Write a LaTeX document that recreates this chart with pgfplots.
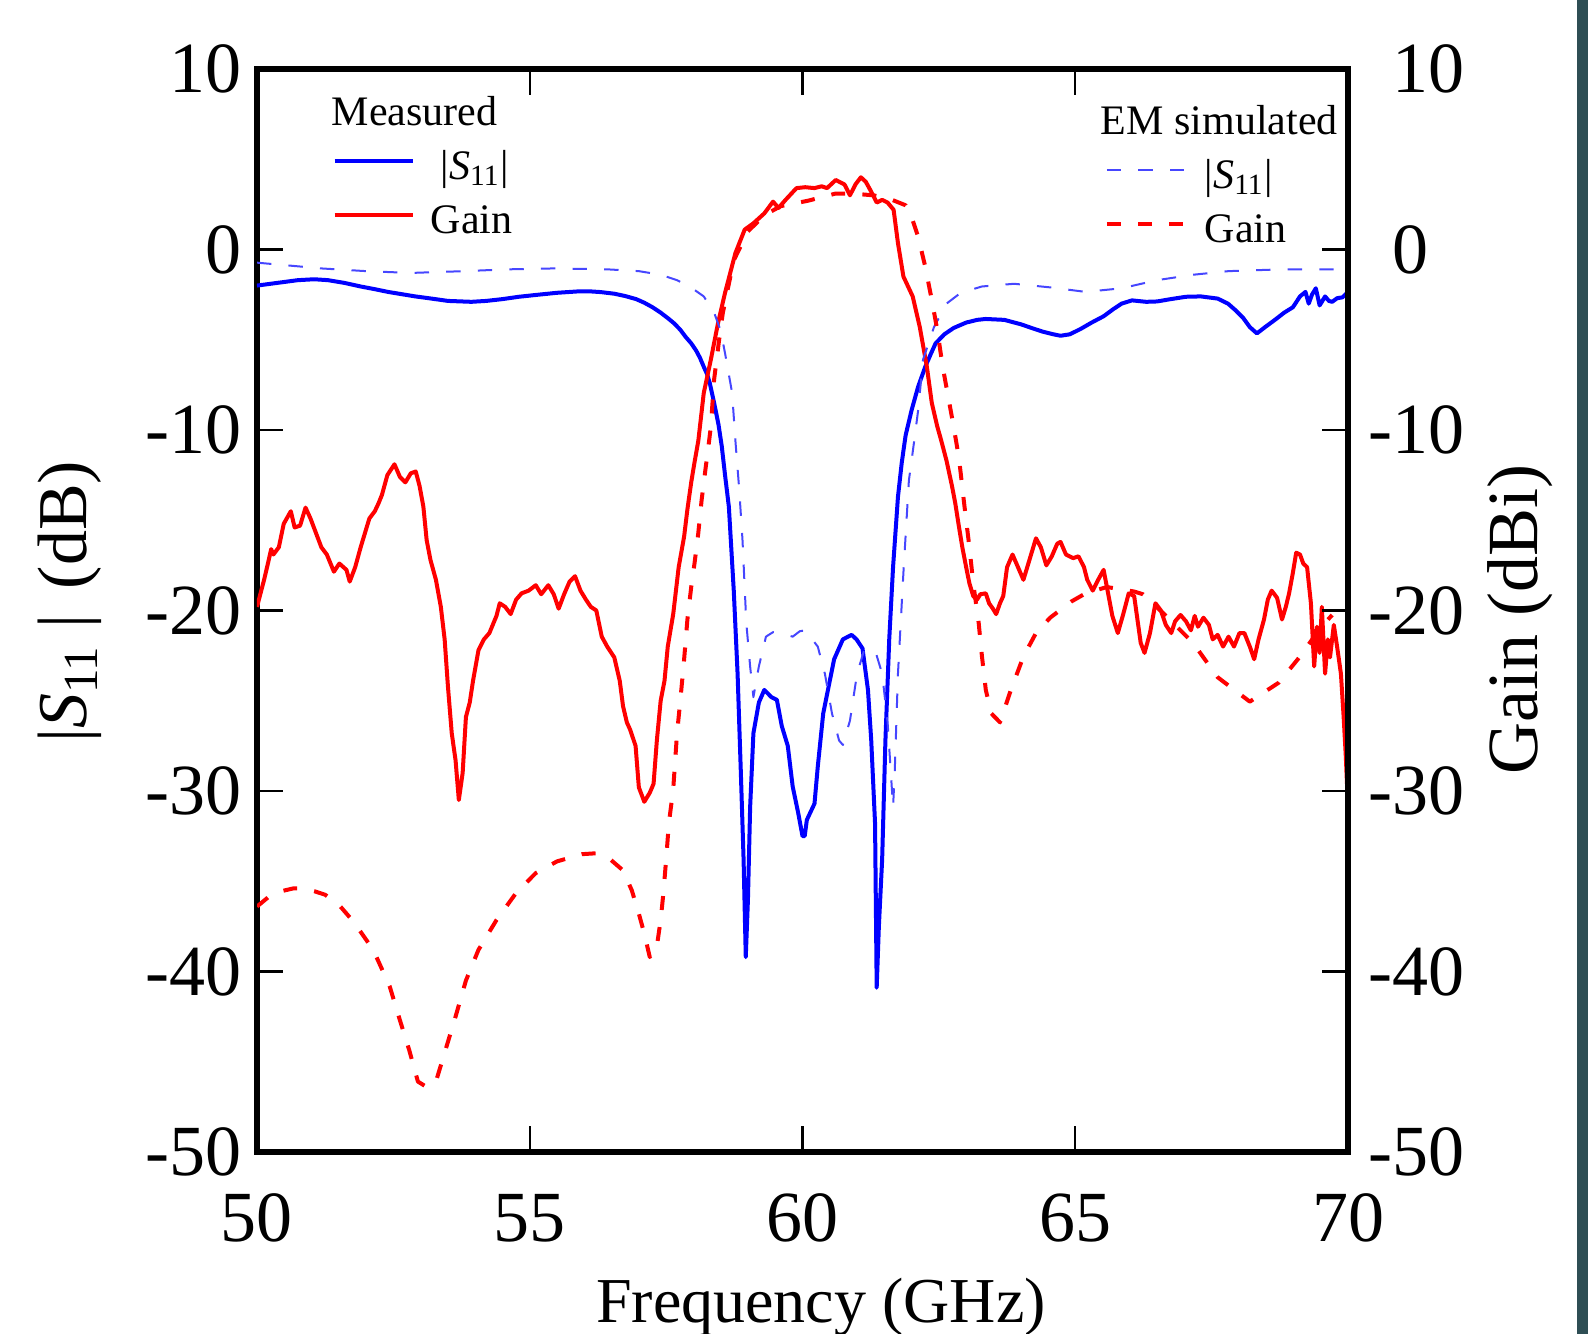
\documentclass[border=0pt]{standalone}
\usepackage{fontspec}
\setmainfont{Liberation Serif}
\usepackage{pgfplots}
\pgfplotsset{compat=1.18}
\definecolor{simblue}{RGB}{70,70,255}
\definecolor{barcol}{RGB}{46,78,84}
\pgfplotsset{
  base/.style={scale only axis, width=272.75pt, height=270.75pt,
    xmin=50, xmax=70, ymin=-50, ymax=10,
    xtick={50,55,...,70}, ytick={-50,-40,...,10},
    axis line style={line width=1.5pt},
    major tick style={line width=0.6pt, black},
    major tick length=6.5pt, tick align=inside,
    legend cell align=left,
    clip=true},
}
\begin{document}
\begin{tikzpicture}
\useasboundingbox (-64.25pt,-45.5pt) rectangle (333.75pt,288pt);
\begin{axis}[base,
  xticklabels={50,55,60,65,70},
  yticklabels={-50,-40,-30,-20,-10,0,10},
  xticklabel style={font=\fontsize{18}{20}\selectfont, anchor=base, inner sep=0pt, yshift=-22.5pt},
  yticklabel style={font=\fontsize{18}{20}\selectfont, anchor=east, inner sep=0pt, xshift=-3.75pt},
  xlabel={Frequency (GHz)},
  xlabel style={at={(axis description cs:0.517,-0.157)}, anchor=base, font=\fontsize{16}{18}\selectfont},
  ylabel={|\textit{S}\textsubscript{11}\hspace{4pt}|\hspace{2pt} (dB)},
  ylabel style={at={(axis description cs:-0.1714,0.508)}, anchor=center, font=\fontsize{17.5}{19}\selectfont},
  legend image code/.code={\draw[#1] (0pt,2pt) -- (19.5pt,2pt);},
  legend style={draw=none, fill=none, at={(axis description cs:0.0687,0.9778)}, anchor=north west,
    font=\fontsize{10.5}{12}\selectfont, inner sep=0pt, column sep=6.5pt, row sep=2.4pt,
    nodes={inner sep=0pt, text height=8pt, text depth=3pt}},
]
\addlegendimage{empty legend}
\addlegendentry{\hspace*{-27.25pt}Measured}
% Measured |S11|
\addplot[blue, line width=1pt, line join=round] coordinates {
(50.00,-2.0) (50.25,-1.9) (50.50,-1.8) (50.75,-1.7) (51.05,-1.65) (51.30,-1.7) (51.60,-1.85)
(51.90,-2.05) (52.16,-2.2) (52.40,-2.35) (52.60,-2.45) (52.90,-2.6) (53.15,-2.7) (53.50,-2.85)
(53.93,-2.9) (54.20,-2.85) (54.50,-2.75) (54.80,-2.62) (55.11,-2.52) (55.50,-2.4) (55.90,-2.32)
(56.10,-2.32) (56.30,-2.36) (56.55,-2.45) (56.75,-2.58) (56.95,-2.75) (57.10,-2.95) (57.25,-3.2)
(57.40,-3.5) (57.55,-3.85) (57.65,-4.1) (57.76,-4.45) (57.86,-4.85) (57.96,-5.2) (58.05,-5.6)
(58.12,-6.0) (58.19,-6.5) (58.25,-6.9) (58.30,-7.4) (58.38,-8.5) (58.46,-9.7) (58.52,-10.9)
(58.58,-12.5) (58.65,-14.25) (58.74,-18.9) (58.81,-23.5) (58.87,-29.0) (58.92,-33.8) (58.96,-39.2)
(59.00,-36.0) (59.04,-30.9) (59.10,-26.8) (59.20,-25.1) (59.30,-24.4) (59.43,-24.8)
(59.53,-24.95) (59.62,-26.4) (59.73,-27.5) (59.82,-29.75) (59.92,-31.2) (60.00,-32.5)
(60.04,-32.5) (60.08,-31.6) (60.22,-30.7) (60.28,-28.65) (60.38,-25.7) (60.48,-24.2)
(60.58,-22.7) (60.74,-21.6) (60.90,-21.35) (60.99,-21.6) (61.10,-22.1) (61.20,-24.4)
(61.26,-27.2) (61.33,-31.8) (61.36,-40.9) (61.40,-37.5) (61.46,-33.8) (61.52,-27.2)
(61.59,-21.6) (61.66,-17.6) (61.75,-13.7) (61.82,-11.8) (61.89,-10.3) (62.00,-8.9) (62.12,-7.6)
(62.25,-6.5) (62.35,-5.8) (62.44,-5.2) (62.60,-4.7) (62.77,-4.35) (63.00,-4.05) (63.20,-3.9)
(63.36,-3.85) (63.70,-3.9) (64.01,-4.15) (64.20,-4.35) (64.40,-4.55) (64.60,-4.7) (64.73,-4.78)
(64.90,-4.7) (65.10,-4.4) (65.30,-4.05) (65.52,-3.7) (65.70,-3.3) (65.85,-3.0) (66.04,-2.82)
(66.30,-2.9) (66.50,-2.88) (66.75,-2.75) (67.03,-2.62) (67.30,-2.6) (67.61,-2.72) (67.80,-3.0)
(67.95,-3.4) (68.08,-3.8) (68.20,-4.3) (68.33,-4.65) (68.48,-4.3) (68.66,-3.9) (68.83,-3.5)
(68.99,-3.2) (69.12,-2.6) (69.22,-2.35) (69.28,-3.0) (69.34,-2.5) (69.41,-2.15) (69.48,-3.1)
(69.58,-2.6) (69.65,-2.85) (69.71,-2.9) (69.80,-2.7) (69.90,-2.65) (69.97,-2.45)
};
\addlegendentry{|\textit{S}\textsubscript{11}|}
% Measured Gain
\addplot[red, line width=1pt, line join=round] coordinates {
(50.00,-19.8) (50.13,-18.3) (50.20,-17.4) (50.26,-16.6) (50.30,-16.9) (50.40,-16.5)
(50.49,-15.2) (50.62,-14.5) (50.69,-15.4) (50.79,-15.3) (50.89,-14.3) (50.98,-14.9)
(51.08,-15.7) (51.18,-16.5) (51.28,-16.9) (51.41,-17.85) (51.51,-17.4) (51.64,-17.75)
(51.70,-18.4) (51.80,-17.6) (51.90,-16.5) (52.00,-15.5) (52.06,-14.9) (52.16,-14.5)
(52.23,-14.05) (52.29,-13.6) (52.39,-12.5) (52.52,-11.9) (52.62,-12.6) (52.72,-12.9)
(52.82,-12.4) (52.91,-12.3) (52.98,-13.1) (53.05,-14.25) (53.11,-16.1) (53.18,-17.2)
(53.28,-18.3) (53.37,-19.8) (53.44,-21.6) (53.50,-24.2) (53.57,-26.8) (53.64,-28.3)
(53.70,-30.5) (53.77,-29.0) (53.83,-25.9) (53.90,-25.1) (53.96,-23.9) (54.06,-22.2)
(54.16,-21.6) (54.26,-21.25) (54.39,-20.3) (54.45,-19.6) (54.55,-19.8) (54.65,-20.2)
(54.75,-19.4) (54.85,-19.05) (54.98,-18.9) (55.11,-18.6) (55.21,-19.1) (55.34,-18.6)
(55.44,-19.1) (55.53,-19.9) (55.63,-19.1) (55.73,-18.4) (55.83,-18.1) (55.93,-18.9)
(56.03,-19.4) (56.12,-19.8) (56.22,-20.0) (56.32,-21.45) (56.42,-22.0) (56.55,-22.6)
(56.65,-23.9) (56.71,-25.3) (56.78,-26.2) (56.84,-26.6) (56.94,-27.5) (57.00,-29.8)
(57.10,-30.6) (57.20,-30.1) (57.27,-29.6) (57.33,-27.2) (57.40,-25.0) (57.47,-23.9)
(57.53,-22.0) (57.63,-20.2) (57.73,-17.6) (57.83,-15.9) (57.89,-14.4) (57.96,-12.9)
(58.02,-11.8) (58.09,-10.6) (58.19,-7.95) (58.32,-6.1) (58.45,-4.1) (58.58,-2.4)
(58.77,-0.2) (58.94,1.1) (59.10,1.45) (59.30,2.0) (59.46,2.65) (59.56,2.3)
(59.69,2.75) (59.89,3.4) (60.05,3.45) (60.22,3.4) (60.35,3.5) (60.45,3.4)
(60.61,3.85) (60.77,3.6) (60.87,3.0) (60.97,3.6) (61.07,4.0) (61.16,3.75)
(61.26,3.2) (61.36,2.6) (61.46,2.75) (61.56,2.6) (61.67,2.2) (61.75,0.35)
(61.85,-1.5) (62.02,-2.6) (62.15,-4.3) (62.28,-6.5) (62.37,-8.5) (62.47,-9.8)
(62.54,-10.55) (62.64,-11.7) (62.74,-13.1) (62.80,-14.05) (62.87,-15.4) (62.93,-16.5)
(63.00,-17.6) (63.06,-18.5) (63.13,-19.2) (63.20,-19.4) (63.26,-19.1) (63.36,-19.05)
(63.42,-19.6) (63.49,-19.9) (63.55,-20.2) (63.62,-19.6) (63.68,-19.2) (63.75,-17.6)
(63.85,-16.9) (63.95,-17.6) (64.05,-18.3) (64.14,-17.4) (64.28,-16.0) (64.37,-16.5)
(64.47,-17.5) (64.57,-17.0) (64.67,-16.3) (64.73,-16.2) (64.83,-16.9) (64.96,-17.1)
(65.06,-17.0) (65.16,-17.6) (65.22,-18.3) (65.32,-18.9) (65.42,-18.3) (65.52,-17.75)
(65.58,-18.7) (65.68,-20.3) (65.78,-21.25) (65.88,-20.2) (65.98,-19.05) (66.08,-19.2)
(66.14,-20.5) (66.20,-21.8) (66.27,-22.35) (66.37,-21.25) (66.47,-19.6) (66.57,-20.0)
(66.66,-20.8) (66.76,-21.25) (66.83,-20.6) (66.93,-20.25) (67.03,-20.6) (67.12,-21.1)
(67.19,-20.3) (67.25,-20.9) (67.35,-20.4) (67.45,-20.8) (67.52,-21.6) (67.61,-21.35)
(67.71,-22.0) (67.81,-21.45) (67.91,-22.0) (68.01,-21.25) (68.10,-21.25) (68.20,-22.0)
(68.28,-22.7) (68.36,-21.6) (68.46,-20.5) (68.53,-19.4) (68.60,-18.9) (68.70,-19.3)
(68.79,-20.5) (68.86,-19.8) (68.92,-19.05) (68.99,-17.9) (69.05,-16.8) (69.12,-16.9)
(69.18,-17.4) (69.25,-17.6) (69.32,-19.6) (69.38,-23.1) (69.43,-20.9) (69.48,-22.35)
(69.52,-19.8) (69.58,-23.5) (69.63,-21.6) (69.67,-22.6) (69.74,-20.8) (69.80,-22.0)
(69.87,-23.5) (69.92,-25.9) (69.96,-28.1) (70.00,-30.9)
};
\addlegendentry{\hspace*{-2.5pt}Gain}
\end{axis}

\begin{axis}[base,
  axis x line=none, axis y line*=right,
  yticklabels={\llap{-}50,\llap{-}40,\llap{-}30,\llap{-}20,\llap{-}10,0,10},
  yticklabel style={font=\fontsize{18}{20}\selectfont, anchor=west, inner sep=0pt, xshift=11pt},
  ylabel={Gain (dBi)},
  ylabel style={at={(axis description cs:1.1577,0.4917)}, anchor=center, font=\fontsize{18}{20}\selectfont},
  legend image code/.code={\draw[#1] (0pt,2pt) -- (19.5pt,2pt);},
  legend style={draw=none, fill=none, at={(axis description cs:0.7764,0.9695)}, anchor=north west,
    font=\fontsize{10.5}{12}\selectfont, inner sep=0pt, column sep=4.5pt, row sep=2.4pt,
    nodes={inner sep=0pt, text height=8pt, text depth=3pt}},
]
\addlegendimage{empty legend}
\addlegendentry{\hspace*{-26pt}EM simulated}
% EM simulated |S11|
\addplot[simblue, line width=0.5pt, dash pattern=on 3.6pt off 4.3pt, line join=round] coordinates {
(50.00,-0.73) (51.18,-1.05) (52.00,-1.2) (52.82,-1.3) (53.80,-1.2) (54.60,-1.1)
(55.44,-1.05) (56.42,-1.1) (57.00,-1.2) (57.40,-1.4) (57.70,-1.7) (57.93,-2.05)
(58.19,-2.6) (58.38,-3.5) (58.50,-4.5) (58.58,-5.75) (58.71,-7.95) (58.77,-10.6)
(58.84,-13.3) (58.90,-16.1) (58.97,-20.7) (59.04,-23.1) (59.10,-24.8) (59.20,-23.1)
(59.33,-21.45) (59.46,-21.2) (59.65,-21.3) (59.82,-21.45) (59.95,-21.15) (60.05,-21.1)
(60.28,-22.0) (60.41,-23.5) (60.54,-25.7) (60.67,-27.2) (60.74,-27.45) (60.87,-26.1)
(61.00,-23.5) (61.13,-22.2) (61.33,-22.2) (61.46,-23.5) (61.56,-26.2) (61.66,-30.9)
(61.69,-29.0) (61.75,-23.5) (61.85,-17.9) (61.95,-12.8) (62.05,-10.55) (62.12,-8.9)
(62.21,-6.1) (62.41,-4.3) (62.64,-3.0) (62.90,-2.4) (63.29,-2.05) (63.88,-1.9)
(64.54,-2.1) (65.19,-2.35) (65.85,-2.15) (66.50,-1.7) (67.16,-1.4) (67.81,-1.2)
(68.79,-1.1) (69.77,-1.1) (70.00,-1.1)
};
\addlegendentry{|\textit{S}\textsubscript{11}|}
% EM simulated Gain
\addplot[red, line width=1pt, dash pattern=on 3.5pt off 4.3pt, line join=round] coordinates {
(50.00,-36.4) (50.20,-35.9) (50.45,-35.55) (50.66,-35.4) (50.85,-35.4) (51.05,-35.55)
(51.25,-35.75) (51.50,-36.3) (51.70,-37.0) (51.83,-37.5) (52.13,-38.8) (52.43,-40.8)
(52.62,-42.7) (52.79,-44.35) (52.95,-46.1) (53.11,-46.4) (53.28,-46.1) (53.47,-44.2)
(53.64,-42.5) (53.83,-40.5) (54.06,-38.8) (54.39,-37.15) (54.75,-35.65) (55.11,-34.55)
(55.50,-33.9) (55.96,-33.5) (56.22,-33.45) (56.48,-33.8) (56.71,-34.4) (56.87,-35.5)
(57.00,-36.8) (57.10,-37.9) (57.20,-39.2) (57.33,-38.6) (57.40,-37.15) (57.45,-35.65)
(57.50,-33.8) (57.55,-31.8) (57.63,-29.9) (57.70,-26.8) (57.76,-25.0) (57.83,-22.7)
(57.89,-20.5) (57.96,-18.7) (58.02,-17.4) (58.09,-15.7) (58.15,-13.9) (58.22,-12.2)
(58.29,-10.55) (58.32,-9.8) (58.38,-7.2) (58.48,-4.8) (58.54,-3.5) (58.74,-0.6)
(59.00,1.0) (59.30,1.9) (59.60,2.4) (60.10,2.7) (60.61,3.1) (60.90,3.1)
(61.30,3.0) (61.60,2.8) (61.89,2.45) (62.00,1.8) (62.12,0.7) (62.25,-0.95)
(62.37,-2.8) (62.47,-4.45) (62.57,-6.5) (62.67,-8.15) (62.77,-9.8) (62.87,-11.6)
(62.97,-14.25) (63.06,-16.5) (63.13,-18.5) (63.23,-20.7) (63.29,-22.55) (63.36,-24.4)
(63.46,-25.7) (63.62,-26.2) (63.82,-24.4) (64.05,-22.55) (64.28,-21.25) (64.54,-20.4)
(64.93,-19.5) (65.19,-19.05) (65.58,-18.7) (66.08,-18.95) (66.24,-19.1) (66.63,-20.2)
(67.16,-21.8) (67.61,-23.7) (68.20,-25.05) (68.73,-24.0) (69.12,-22.55) (69.51,-20.9)
(69.71,-20.25)
};
\addlegendentry{Gain}
\end{axis}
\fill[barcol] (330pt,-45.5pt) rectangle (332.75pt,288pt);
\end{tikzpicture}
\end{document}
